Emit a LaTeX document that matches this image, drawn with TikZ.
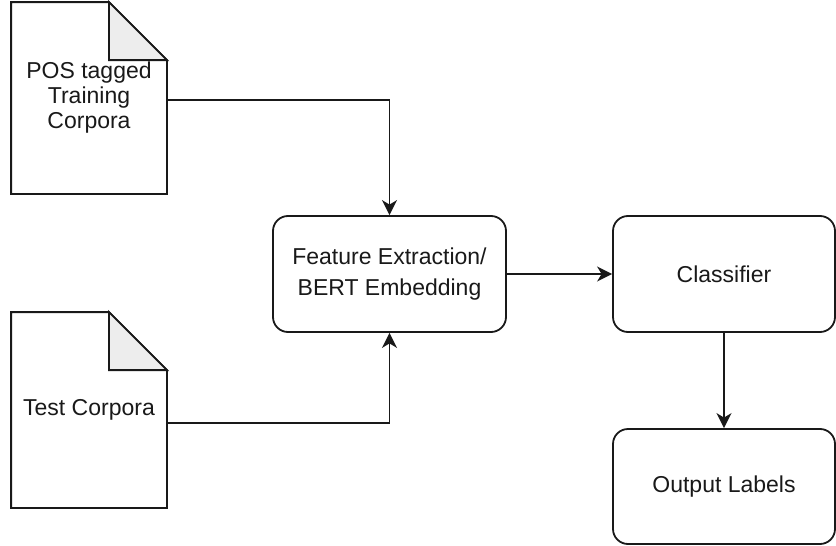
\documentclass[tikz,border=0pt]{standalone}
\usepackage{fontspec}
\setmainfont{Liberation Sans}
\usetikzlibrary{arrows.meta}
\begin{document}
\begin{tikzpicture}[x=1pt,y=-1pt,
  line width=1.8pt, color=black!90,
  stepbox/.style={draw, rounded corners=15pt, inner sep=0pt, align=center,
    font=\fontsize{23}{31}\selectfont},
  docshape/.style={inner sep=0pt, align=center, font=\fontsize{23}{25}\selectfont},
  conn/.style={-{Stealth[length=15pt,width=15pt,inset=4.5pt]}},
  foldfill/.style={fill=black!7}]
\useasboundingbox (0,0) rectangle (836,546);

% documents (page with folded corner)
\node[docshape, minimum width=154pt, minimum height=190pt] (train) at (89,98)
  {POS tagged\\Training\\Corpora};
\node[docshape, minimum width=154pt, minimum height=194pt] (test) at (89,410)
  {Test Corpora};
\foreach \d in {train,test}{
  \draw (\d.north west) -- ([xshift=-58pt]\d.north east)
        -- ([yshift=-58pt]\d.north east) -- (\d.south east)
        -- (\d.south west) -- cycle;
  \draw[foldfill] ([xshift=-58pt]\d.north east)
        -- ([xshift=-58pt,yshift=-58pt]\d.north east)
        -- ([yshift=-58pt]\d.north east) -- cycle;
}

% processing steps
\node[stepbox, minimum width=233pt, minimum height=116pt] (feat) at (389.5,274)
  {Feature Extraction/\\BERT Embedding};
\node[stepbox, minimum width=222pt, minimum height=116pt] (cls) at (724,274)
  {Classifier};
\node[stepbox, minimum width=222pt, minimum height=115pt] (out) at (724,486.5)
  {Output Labels};

% connectors
\draw[conn] ([yshift=-2pt]train.east) -| (feat.north);
\draw[conn] ([yshift=-13pt]test.east) -| (feat.south);
\draw[conn] (feat.east) -- (cls.west);
\draw[conn] (cls.south) -- (out.north);
\end{tikzpicture}
\end{document}
